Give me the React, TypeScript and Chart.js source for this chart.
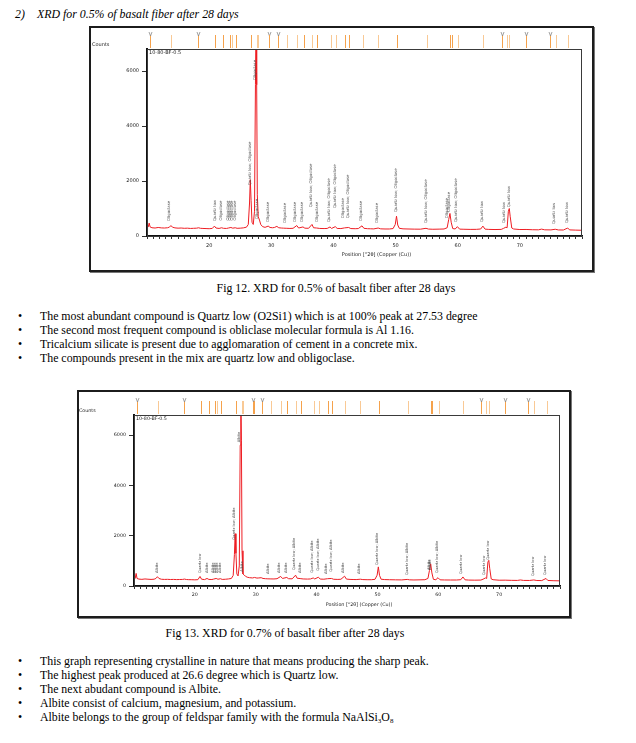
import React, { useEffect, useRef } from "react";
import { Chart, registerables } from "chart.js";

Chart.register(...registerables);

// ---------- data ----------
const X_MIN = 10;
const X_MAX = 80;
const Y_MAX = 6800;
const xTickLabels = [20, 30, 40, 50, 60, 70];
const yTickValues = [0, 2000, 4000, 6000];

// 2θ positions of the sampled points of both scans
const theta = [
  10.0, 10.2, 10.35, 10.5, 10.8, 11.3, 11.8, 12.3, 12.8, 13.3,
  13.6, 13.85, 14.1, 14.5, 15.0, 15.5, 16.0, 16.5, 17.0, 17.5,
  18.0, 18.3, 18.6, 19.0, 19.5, 20.0, 20.5, 20.85, 21.1, 21.6,
  22.0, 22.3, 22.8, 23.1, 23.5, 23.8, 24.2, 24.5, 25.0, 25.5,
  26.0, 26.3, 26.5, 26.62, 26.75, 26.9, 27.1, 27.3, 27.45, 27.55,
  27.65, 27.75, 27.9, 28.1, 28.3, 28.6, 29.0, 29.5, 29.8, 30.2,
  30.5, 30.9, 31.2, 31.6, 32.0, 32.5, 33.0, 33.5, 34.1, 34.4,
  35.1, 35.4, 36.0, 36.55, 36.8, 37.3, 37.8, 38.5, 39.0, 39.45,
  39.7, 40.3, 40.6, 41.2, 41.8, 42.45, 42.8, 43.5, 44.0, 44.6,
  44.9, 45.5, 46.0, 46.5, 47.2, 47.6, 48.3, 49.0, 49.6, 49.95,
  50.15, 50.35, 50.6, 51.2, 52.0, 53.0, 54.0, 54.9, 55.3, 56.0,
  57.0, 57.8, 58.3, 58.55, 58.75, 58.95, 59.2, 59.6, 59.95, 60.3,
  61.0, 62.0, 63.0, 63.7, 64.05, 64.4, 65.0, 66.0, 67.0, 67.35,
  67.75, 67.95, 68.15, 68.3, 68.45, 68.7, 69.0, 70.0, 71.0, 72.0,
  73.0, 73.5, 74.0, 75.0, 75.7, 76.2, 77.0, 77.7, 78.0, 79.0,
  80.0,
];

// Fig 12: 0.5 % basalt fiber (counts)
const countsFig12 = [
  300, 330, 470, 330, 300, 290, 310, 295, 290, 300,
  320, 380, 320, 295, 285, 290, 280, 285, 275, 280,
  285, 300, 280, 275, 270, 265, 275, 360, 290, 275,
  300, 280, 275, 290, 310, 285, 300, 280, 285, 295,
  320, 420, 1200, 2050, 1300, 500, 420, 900, 5500, 8000,
  5500, 1500, 700, 580, 420, 340, 315, 360, 310, 300,
  310, 350, 300, 290, 285, 280, 275, 280, 380, 290,
  330, 285, 280, 420, 300, 290, 275, 270, 275, 330,
  275, 340, 275, 270, 295, 310, 270, 265, 270, 370,
  280, 265, 262, 258, 290, 260, 255, 255, 270, 420,
  720, 400, 280, 260, 255, 250, 248, 280, 252, 245,
  250, 255, 300, 600, 820, 500, 270, 255, 340, 250,
  245, 240, 242, 255, 360, 250, 240, 235, 240, 275,
  320, 300, 900, 1000, 700, 290, 255, 235, 238, 228,
  225, 250, 225, 222, 245, 220, 218, 290, 222, 214,
  208,
];

// Fig 13: 0.7 % basalt fiber (counts)
const countsFig13 = [
  270, 300, 500, 300, 275, 265, 280, 270, 262, 270,
  300, 370, 300, 268, 262, 265, 258, 262, 255, 258,
  262, 275, 258, 252, 250, 245, 252, 380, 270, 255,
  300, 262, 258, 275, 300, 268, 290, 262, 268, 280,
  300, 420, 1250, 2080, 1300, 480, 400, 800, 5600, 8000,
  5800, 1400, 480, 440, 390, 350, 330, 320, 340, 315,
  320, 330, 300, 290, 285, 282, 280, 290, 380, 300,
  340, 290, 285, 430, 310, 295, 280, 275, 280, 320,
  280, 350, 275, 270, 290, 300, 268, 262, 268, 390,
  275, 262, 258, 255, 270, 255, 250, 250, 265, 430,
  760, 420, 270, 255, 250, 245, 242, 262, 245, 240,
  245, 250, 300, 620, 880, 520, 265, 250, 330, 245,
  240, 238, 238, 250, 360, 245, 236, 232, 236, 270,
  320, 300, 950, 1020, 700, 280, 250, 230, 232, 225,
  222, 240, 222, 220, 240, 218, 215, 300, 220, 210,
  205,
];

// reference pattern sticks (2θ), strength flag, and "V" marker flag
const refSticks = [
  10.5, 13.9, 18.2, 21.0, 22.3, 23.3, 23.6, 24.3, 26.7, 27.7,
  27.9, 29.6, 29.7, 31.0, 32.5, 34.2, 35.2, 36.6, 37.4, 39.6,
  40.4, 41.9, 42.5, 44.7, 47.2, 50.2, 55.1, 58.8, 59.0, 60.1,
  64.1, 67.1, 67.9, 68.3, 71.0, 74.8, 75.8, 77.8,
];
const refStickStrong = [
  1, 0, 1, 1, 1, 1, 0, 1, 1, 0,
  0, 1, 1, 1, 0, 0, 1, 0, 1, 0,
  0, 1, 1, 0, 0, 1, 0, 1, 1, 0,
  0, 1, 0, 0, 1, 1, 0, 0,
];
const refStickMarked = [
  1, 0, 1, 0, 0, 0, 0, 0, 0, 0,
  0, 1, 0, 1, 0, 0, 0, 0, 0, 0,
  0, 0, 0, 0, 0, 0, 0, 0, 0, 0,
  0, 1, 0, 0, 1, 1, 0, 0,
];

// peak annotations Fig 12
const OLI = "Oligoclase";
const QL = "Quartz low";
const QLO = "Quartz low; Oligoclase";
const labelPosFig12 = [13.6, 21.0, 21.9, 23.0, 23.3, 23.6, 24.2, 26.5, 27.45, 27.75, 29.4, 32.2, 33.8, 35.0, 36.4, 37.3, 39.3, 40.3, 41.5, 42.3, 44.4, 47.0, 50.0, 54.9, 58.3, 58.6, 59.7, 63.9, 67.5, 68.2, 75.5, 77.6];
const labelTextFig12 = [OLI, QL, OLI, OLI, OLI, OLI, OLI, QLO, OLI, OLI, OLI, OLI, OLI, OLI, QLO, OLI, QLO, QLO, OLI, QLO, OLI, OLI, QLO, QLO, OLI, OLI, QLO, QL, QL, QL, QL, QL];
const labelBaseFig12 = [545, 545, 560, 560, 560, 560, 560, 1850, 5670, 620, 510, 470, 510, 510, 1050, 510, 510, 1020, 650, 650, 545, 470, 870, 470, 650, 870, 510, 510, 470, 1050, 440, 470];

// peak annotations Fig 13
const ALB = "Albite";
const QLA = "Quartz low; Albite";
const labelPosFig13 = [13.8, 20.8, 22.0, 23.0, 23.3, 23.6, 24.2, 26.5, 27.3, 27.7, 32.1, 33.8, 35.0, 36.3, 37.3, 39.3, 40.3, 41.5, 42.3, 44.4, 47.0, 50.0, 54.8, 58.5, 58.7, 59.8, 63.8, 67.5, 68.2, 75.5, 77.5];
const labelTextFig13 = [ALB, QL, ALB, ALB, ALB, ALB, ALB, QLA, ALB, ALB, ALB, ALB, ALB, QLA, ALB, QLA, QLA, ALB, QLA, ALB, ALB, QLA, QLA, ALB, ALB, QLA, QL, QL, QL, QL, QL];
const labelBaseFig13 = [520, 520, 520, 520, 520, 520, 520, 1840, 5720, 570, 480, 520, 520, 640, 520, 530, 610, 480, 570, 520, 480, 840, 440, 640, 640, 520, 480, 440, 1040, 400, 440];

const sampleName = "10-80-BF-0.5";
const yAxisTitle = "Counts";
const xAxisTitle = "Position [°2θ] (Copper (Cu))";

const notesFig12 = [
  "The most abundant compound is Quartz low (O2Si1) which is at 100% peak at 27.53 degree",
  "The second most frequent compound is obliclase molecular formula is Al 1.16.",
  "Tricalcium silicate is present due to agglomaration of cement in a concrete mix.",
  "The compounds present in the mix are quartz low and obligoclase.",
];
const notesFig13 = [
  "This graph representing crystalline in nature that means producing the sharp peak.",
  "The highest peak produced at 26.6 degree which is Quartz low.",
  "The next abudant compound is Albite.",
  "Albite consist of calcium, magnesium, and potassium.",
];

// ---------- chart component ----------
const SANS = '"DejaVu Sans", sans-serif';
const SERIF = '"Liberation Serif", "Times New Roman", serif';

type XrdProps = {
  left: number;
  top: number;
  width: number;
  height: number;
  yAxisW: number;
  xAxisH: number;
  padTop: number;
  padRight: number;
  counts: number[];
  labelPos: number[];
  labelText: string[];
  labelBase: number[];
  labelFont: number;
  tickFont: number;
  xTickPad: number;
};

function XrdChart(p: XrdProps) {
  const ref = useRef<HTMLCanvasElement>(null);
  useEffect(() => {
    const decor = {
      id: "xrdDecor",
      afterDraw(chart: any) {
        const ctx = chart.ctx as CanvasRenderingContext2D;
        const area = chart.chartArea;
        const xs = chart.scales.x;
        const ys = chart.scales.y;
        ctx.save();
        // plot frame
        ctx.strokeStyle = "#3a3a3a";
        ctx.lineWidth = 1;
        ctx.strokeRect(area.left + 0.5, area.top + 0.5, area.right - area.left - 1, area.bottom - area.top);
        // reference sticks
        refSticks.forEach((pos, i) => {
          const x = Math.round(xs.getPixelForValue(pos)) + 0.5;
          ctx.strokeStyle = refStickStrong[i] ? "#f5a24c" : "#f9c995";
          ctx.lineWidth = 1;
          ctx.beginPath();
          ctx.moveTo(x, area.top - 14);
          ctx.lineTo(x, area.top - 1);
          ctx.stroke();
          if (refStickMarked[i]) {
            ctx.strokeStyle = "#8a8a8a";
            ctx.lineWidth = 0.8;
            ctx.beginPath();
            ctx.moveTo(x - 1.5, area.top - 17);
            ctx.lineTo(x, area.top - 13);
            ctx.lineTo(x + 1.5, area.top - 17);
            ctx.stroke();
          }
        });
        // peak labels
        ctx.fillStyle = "#4a4a4a";
        ctx.font = `${p.labelFont}px ${SANS}`;
        ctx.textAlign = "left";
        ctx.textBaseline = "middle";
        p.labelPos.forEach((pos, i) => {
          const x = xs.getPixelForValue(pos);
          const y = ys.getPixelForValue(p.labelBase[i]);
          ctx.save();
          ctx.translate(x, y);
          ctx.rotate(-Math.PI / 2);
          ctx.fillText(p.labelText[i], 0, 0);
          ctx.restore();
        });
        // texts
        ctx.fillStyle = "#222";
        ctx.font = `${p.tickFont}px ${SANS}`;
        ctx.textBaseline = "middle";
        ctx.textAlign = "left";
        ctx.fillText(yAxisTitle, area.left - 55, area.top - 4);
        ctx.fillText(sampleName, area.left + 2, area.top + 3.5);
        ctx.textAlign = "center";
        ctx.fillText(xAxisTitle, (area.left + area.right) / 2 + 12, area.bottom + 19);
        ctx.restore();
      },
    };

    const chart = new Chart(ref.current as HTMLCanvasElement, {
      type: "line",
      data: {
        datasets: [
          {
            data: theta.map((t, i) => ({ x: t, y: p.counts[i] })),
            borderColor: "#ee1d23",
            borderWidth: 1,
            pointRadius: 0,
            tension: 0,
            fill: false,
          },
        ],
      },
      options: {
        animation: false,
        responsive: true,
        maintainAspectRatio: false,
        layout: { padding: { left: 0, right: p.padRight, top: p.padTop, bottom: 0 } },
        plugins: { legend: { display: false }, tooltip: { enabled: false } },
        scales: {
          x: {
            type: "linear",
            min: X_MIN,
            max: X_MAX,
            bounds: "data",
            afterFit: (s: any) => {
              s.height = p.xAxisH;
            },
            ticks: {
              stepSize: 1,
              autoSkip: false,
              maxRotation: 0,
              minRotation: 0,
              padding: p.xTickPad,
              color: "#222",
              font: { family: SANS, size: p.tickFont },
              callback: (v: any) => (xTickLabels.includes(Number(v)) ? String(v) : ""),
            },
            grid: { drawOnChartArea: false, drawTicks: true, tickLength: 3, color: "#333" },
            border: { display: true, color: "#111", width: 1.5 },
          },
          y: {
            type: "linear",
            min: 0,
            max: Y_MAX,
            bounds: "data",
            afterFit: (s: any) => {
              s.width = p.yAxisW;
            },
            afterBuildTicks: (s: any) => {
              s.ticks = yTickValues.map((v) => ({ value: v }));
            },
            ticks: {
              padding: 3,
              color: "#222",
              font: { family: SANS, size: p.tickFont },
              callback: (v: any) => String(v),
            },
            grid: { drawOnChartArea: false, drawTicks: true, tickLength: 5, color: "#333" },
            border: { display: true, color: "#111", width: 2 },
          },
        },
      },
      plugins: [decor],
    } as any);
    return () => chart.destroy();
  }, []);

  return (
    <div
      style={{
        position: "absolute",
        left: p.left,
        top: p.top,
        width: p.width,
        height: p.height,
        border: "2px solid #1c1c1c",
        boxSizing: "border-box",
        boxShadow: "1px 1px 0 #777",
        background: "#fff",
      }}
    >
      <div style={{ position: "relative", width: "100%", height: "100%" }}>
        <canvas ref={ref} />
      </div>
    </div>
  );
}

// ---------- text helpers ----------
const TEXT_SIZE = 11.85;

function Line(props: { left: number; top: number; children: React.ReactNode; italic?: boolean }) {
  return (
    <div
      style={{
        position: "absolute",
        left: props.left,
        top: props.top,
        fontFamily: SERIF,
        fontSize: TEXT_SIZE,
        lineHeight: "14px",
        fontStyle: props.italic ? "italic" : "normal",
        whiteSpace: "nowrap",
        color: "#000",
      }}
    >
      {props.children}
    </div>
  );
}

function Caption(props: { center: number; top: number; text: string }) {
  return (
    <div
      style={{
        position: "absolute",
        left: props.center - 250,
        width: 500,
        top: props.top,
        textAlign: "center",
        fontFamily: SERIF,
        fontSize: TEXT_SIZE,
        lineHeight: "14px",
        whiteSpace: "nowrap",
        color: "#000",
      }}
    >
      {props.text}
    </div>
  );
}

function Bullet(props: { top: number; children: React.ReactNode }) {
  return (
    <>
      <Line left={18} top={props.top}>•</Line>
      <Line left={40} top={props.top}>{props.children}</Line>
    </>
  );
}

export default function App() {
  const sub: React.CSSProperties = { fontSize: 7, position: "relative", top: 2, lineHeight: 0 };
  return (
    <div style={{ position: "absolute", left: 0, top: 0, width: 636, height: 743, background: "#fff" }}>
      <Line left={15} top={7} italic>2)</Line>
      <Line left={37} top={7} italic>XRD for 0.5% of basalt fiber after 28 days</Line>

      <XrdChart
        left={89}
        top={26}
        width={505}
        height={246}
        yAxisW={56}
        xAxisH={34}
        padTop={21}
        padRight={10}
        counts={countsFig12}
        labelPos={labelPosFig12}
        labelText={labelTextFig12}
        labelBase={labelBaseFig12}
        labelFont={3.9}
        tickFont={5}
        xTickPad={4}
      />
      <Caption center={336} top={281} text="Fig 12. XRD for 0.5% of basalt fiber after 28 days" />
      {notesFig12.map((t, i) => (
        <Bullet key={i} top={309 + i * 14}>{t}</Bullet>
      ))}

      <XrdChart
        left={77}
        top={390}
        width={494}
        height={228}
        yAxisW={55}
        xAxisH={30}
        padTop={23}
        padRight={9}
        counts={countsFig13}
        labelPos={labelPosFig13}
        labelText={labelTextFig13}
        labelBase={labelBaseFig13}
        labelFont={3.6}
        tickFont={4.8}
        xTickPad={3}
      />
      <Caption center={285} top={626} text="Fig 13. XRD for 0.7% of basalt fiber after 28 days" />
      {notesFig13.map((t, i) => (
        <Bullet key={i} top={654 + i * 14}>{t}</Bullet>
      ))}
      <Bullet top={654 + 4 * 14}>
        Albite belongs to the group of feldspar family with the formula NaAlSi<span style={sub}>3</span>O
        <span style={sub}>8</span>
      </Bullet>
    </div>
  );
}
